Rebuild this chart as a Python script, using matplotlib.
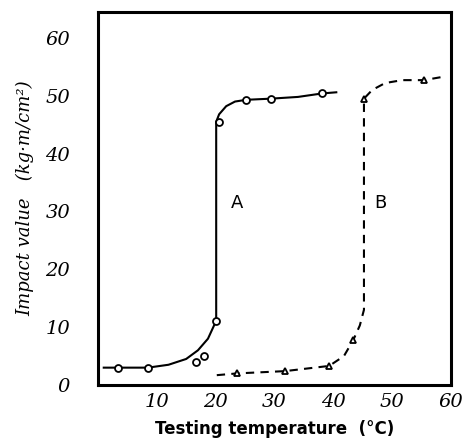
import matplotlib
matplotlib.use("Agg")
import matplotlib.pyplot as plt

# Series A (open circles) - measured points
a_pts_x = [3.5, 8.5, 16.7, 18.0, 20.1, 20.6, 25.2, 29.4, 38.1]
a_pts_y = [3.0, 3.0, 4.0, 5.0, 11.1, 45.5, 49.3, 49.5, 50.4]
# Hand-drawn curve A (vertices)
a_curve_x = [1.0, 3.5, 8.5, 12.0, 15.0, 17.0, 18.7, 20.1, 20.1, 20.6, 21.8, 23.3, 25.2, 29.4, 34.0, 38.1, 40.5]
a_curve_y = [3.0, 3.0, 3.0, 3.5, 4.5, 6.0, 8.0, 11.1, 45.5, 46.8, 48.2, 49.0, 49.3, 49.5, 49.8, 50.4, 50.6]

# Series B (open triangles)
b_pts_x = [23.6, 31.8, 39.3, 43.4, 45.2, 55.4]
b_pts_y = [2.0, 2.4, 3.3, 7.8, 49.5, 52.7]
b_curve_x = [20.2, 23.6, 31.8, 39.3, 41.8, 43.4, 44.5, 45.2, 45.2, 46.6, 48.8, 51.7, 55.4, 58.2]
b_curve_y = [1.7, 2.0, 2.4, 3.3, 5.0, 7.8, 10.3, 13.0, 49.5, 51.0, 52.2, 52.7, 52.7, 53.2]

x_ticks = [10, 20, 30, 40, 50, 60]
y_ticks = [0, 10, 20, 30, 40, 50, 60]

fig = plt.figure(figsize=(4.66, 4.40), dpi=100)
ax = fig.add_axes([0.21, 0.125, 0.758, 0.848])

ax.plot(a_curve_x, a_curve_y, color="black", lw=1.5)
ax.plot(a_pts_x, a_pts_y, linestyle="none", marker="o", ms=5, mfc="white", mec="black", mew=1.3)
ax.plot(b_curve_x, b_curve_y, color="black", lw=1.5, dashes=(4, 3))
ax.plot(b_pts_x, b_pts_y, linestyle="none", marker="^", ms=5, mfc="white", mec="black", mew=1.3)

ax.text(22.6, 31.5, "A", fontsize=13, ha="left", va="center")
ax.text(47.0, 31.5, "B", fontsize=13, ha="left", va="center")

ax.set_xlim(0, 60)
ax.set_ylim(0, 64.5)
ax.set_xticks(x_ticks)
ax.set_yticks(y_ticks)
ax.set_xticklabels([str(t) for t in x_ticks], fontsize=14, fontstyle="italic", family="DejaVu Serif")
ax.set_yticklabels([str(t) for t in y_ticks], fontsize=14, fontstyle="italic", family="DejaVu Serif")
ax.tick_params(axis="both", length=0)
ax.tick_params(axis="y", pad=20)
ax.tick_params(axis="x", pad=6)
for s in ax.spines.values():
    s.set_linewidth(2.2)

ax.set_xlabel("Testing temperature  (°C)", fontsize=12, fontweight="bold", labelpad=6)
ax.set_ylabel("Impact value   (kg·m/cm²)", fontsize=13, fontstyle="italic", family="DejaVu Serif", labelpad=8)

fig.savefig("out.png", dpi=100)
